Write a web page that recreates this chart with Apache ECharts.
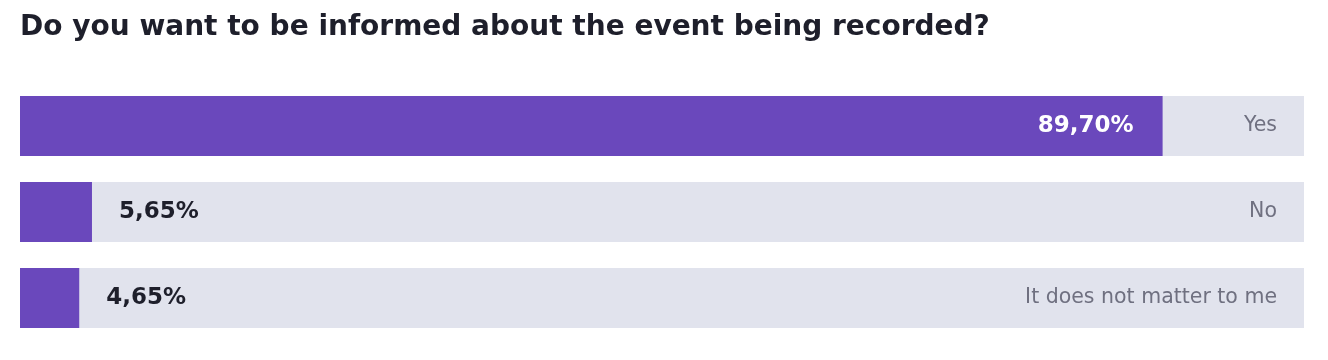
<!DOCTYPE html>
<html>
<head>
<meta charset="utf-8">
<script src="https://cdn.jsdelivr.net/npm/echarts@6/dist/echarts.min.js"></script>
<style>
html,body{margin:0;padding:0;background:#fff;}
#chart{width:1328px;height:360px;}
</style>
</head>
<body>
<div id="chart"></div>
<script>
const titleText = 'Do you want to be informed about the event being recorded?';
const categories = ['Yes', 'No', 'It does not matter to me'];
const values = [89.70, 5.65, 4.65];

const fmt = v => v.toFixed(2).replace('.', ',') + '%';

const chart = echarts.init(document.getElementById('chart'), null, {renderer: 'canvas'});
chart.setOption({
  animation: false,
  title: {
    text: titleText,
    left: 20, top: 14, padding: 0,
    textStyle: {fontFamily: 'DejaVu Sans', fontWeight: 'bold', fontSize: 28, color: '#1e1f2b'}
  },
  grid: {left: 20, right: 24, top: 83, bottom: 19, containLabel: false},
  xAxis: {type: 'value', min: 0, max: 100.8, show: false},
  yAxis: {
    type: 'category', data: categories, inverse: true, position: 'right', z: 10,
    axisLine: {show: false}, axisTick: {show: false}, splitLine: {show: false},
    axisLabel: {inside: true, margin: 27, color: '#6f7080', fontFamily: 'DejaVu Sans', fontSize: 20.5, align: 'right'}
  },
  series: [{
    type: 'bar',
    barWidth: 60,
    data: values.map((v, i) => ({
      value: v,
      label: i === 0
        ? {position: 'insideRight', distance: 29, color: '#ffffff'}
        : {position: 'right', distance: 27, color: '#1e1f2b'}
    })),
    itemStyle: {color: '#6a48bc'},
    showBackground: true,
    backgroundStyle: {color: '#e1e3ed'},
    label: {
      show: true,
      fontFamily: 'DejaVu Sans', fontWeight: 'bold', fontSize: 23,
      formatter: p => fmt(p.value)
    }
  }]
});
</script>
</body>
</html>
